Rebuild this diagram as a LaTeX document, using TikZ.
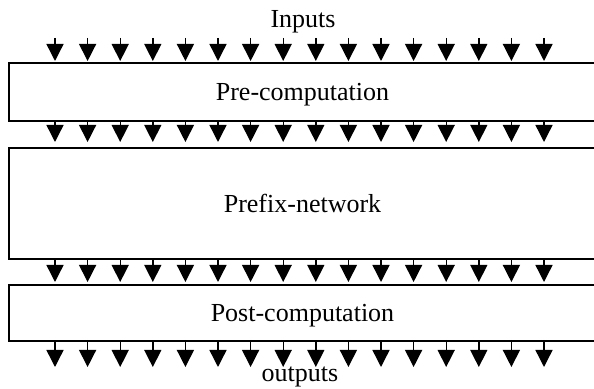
\documentclass[tikz,border=0pt]{standalone}
\usepackage{fontspec}
\setmainfont{Liberation Serif}
\usetikzlibrary{arrows.meta,positioning}

\begin{document}
\begin{tikzpicture}[x=0.5pt,y=-0.5pt,
	blk/.style={draw,line width=1pt,inner sep=0pt,minimum width=294pt,text depth=0pt,font=\fontsize{13}{15}\selectfont},
	sig/.style={-{Triangle[width=8.5pt,length=8.5pt]},line width=0.7pt},
	lbl/.style={anchor=base,inner sep=0pt,font=\fontsize{13}{15}\selectfont}]
	\useasboundingbox (0,0) rectangle (594,389);
	\clip (0,0) rectangle (594,389);

	\node[blk,minimum height=29pt] (pre) at (302.5,92) {Pre-computation};
	\node[blk,minimum height=55.5pt] (prefix) at (302.5,203.5) {Prefix-network};
	\node[blk,minimum height=28pt] (post) at (302.5,313) {Post-computation};

	\node[lbl] (in) at (303,28) {Inputs};
	\node[lbl] (out) at (300,382) {outputs};

	\foreach \i in {0,...,15} {
		\coordinate (c\i) at (55+32.6*\i,38);
		\coordinate (o\i) at (55+32.6*\i,367);
		\draw[sig,shorten >=0.5pt] (c\i) -- (c\i |- pre.north);
		\draw[sig,shorten >=2.5pt] (c\i |- pre.south) -- (c\i |- prefix.north);
		\draw[sig,shorten >=1pt] (c\i |- prefix.south) -- (c\i |- post.north);
		\draw[sig] (c\i |- post.south) -- (o\i);
	}
\end{tikzpicture}
\end{document}
